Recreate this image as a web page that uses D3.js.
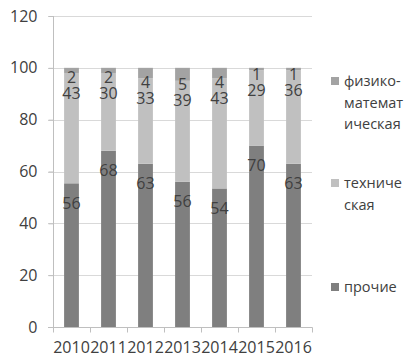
<!DOCTYPE html>
<html><head><meta charset="utf-8">
<script src="https://cdn.jsdelivr.net/npm/d3@7"></script>
<style>body{margin:0;background:#fff}svg{display:block}text{font-family:"Open Sans",sans-serif;fill:#404040}</style>
</head><body><svg id="c" width="406" height="358"></svg>
<script>
const years = ["2010","2011","2012","2013","2014","2015","2016"];
const prochie = [56,68,63,56,54,70,63];
const tekhnicheskaya = [43,30,33,39,43,29,36];
const fizmat = [2,2,4,5,4,1,1];
const seriesNames = ["прочие","техническая","физико-математическая"];
const legendLines = [["физико-","математ","ическая"],["техниче","ская"],["прочие"]];
const yTicks = [0,20,40,60,80,100,120];

const svg = d3.select("#c");
const L=53, R=312, T=16, B=327;
const x = d3.scaleBand().domain(years).range([L,R]).paddingInner(0.6).paddingOuter(0.3);
const xc = d3.scaleBand().domain(years).range([L,R]);
const y = d3.scaleLinear().domain([0,120]).range([B,T]);
const colors = {"прочие":"#7f7f7f","техническая":"#c0c0c0","физико-математическая":"#a3a3a3"};

// gridlines
svg.append("g").selectAll("line").data(yTicks.filter(d=>d>0)).join("line")
  .attr("x1",L-5).attr("x2",R).attr("y1",d=>Math.round(y(d))+0.5).attr("y2",d=>Math.round(y(d))+0.5)
  .attr("stroke","#d9d9d9");
// y axis
const ya = svg.append("g").attr("transform",`translate(${L+0.5},0)`)
  .call(d3.axisLeft(y).tickValues(yTicks).tickSize(5).tickPadding(11));
ya.select(".domain").attr("stroke","#bfbfbf").attr("d",`M-5,${B+0.5}H0V${T}`);
ya.selectAll(".tick line").attr("stroke","#bfbfbf");
ya.selectAll(".tick text").attr("font-size",16).attr("fill","#404040").attr("font-family","Open Sans");

// data
const rows = years.map((yr,i)=>{
  const tot = prochie[i]+tekhnicheskaya[i]+fizmat[i];
  return {year:yr, vals:[prochie[i],tekhnicheskaya[i],fizmat[i]], tot};
});
const stackData = rows.map(r=>({year:r.year,"прочие":r.vals[0]/r.tot*100,"техническая":r.vals[1]/r.tot*100,"физико-математическая":r.vals[2]/r.tot*100,raw:r.vals}));
const stack = d3.stack().keys(seriesNames)(stackData);

svg.append("g").selectAll("g").data(stack).join("g").attr("fill",d=>colors[d.key])
  .selectAll("rect").data(d=>d).join("rect")
  .attr("x",d=>x(d.data.year)).attr("width",x.bandwidth())
  .attr("y",d=>y(d[1])).attr("height",d=>y(d[0])-y(d[1]));

// x axis
const xa = svg.append("g").attr("transform",`translate(0,${B+0.5})`);
xa.append("line").attr("x1",L-5).attr("x2",R+0.5).attr("stroke","#bfbfbf");
xa.selectAll("line.t").data(d3.range(years.length+1)).join("line").attr("class","t")
  .attr("x1",i=>Math.round(L+i*xc.step())+0.5).attr("x2",i=>Math.round(L+i*xc.step())+0.5)
  .attr("y1",0).attr("y2",5).attr("stroke","#bfbfbf");
svg.append("g").selectAll("text").data(years).join("text")
  .attr("x",d=>xc(d)+xc.bandwidth()/2).attr("y",353).attr("text-anchor","middle")
  .attr("font-size",16).text(d=>d);

// labels
const lab = svg.append("g").attr("font-size",16).attr("text-anchor","middle");
stackData.forEach((d,i)=>{
  const cx = x(d.year)+x.bandwidth()/2;
  const s0 = stack[0][i], s1 = stack[1][i], s2 = stack[2][i];
  const yP = y(s0[1])+20;
  const yT = y(s1[1])+20;
  const yF = Math.min(y(s2[1])+20, yT-16);
  [[yP,d.raw[0]],[yT,d.raw[1]],[yF,d.raw[2]]].forEach(([yy,v])=>{
    lab.append("text").attr("x",cx).attr("y",yy).attr("dy","0.35em").text(v);
  });
});

// legend
const leg = [ {name:"физико-математическая",lines:legendLines[0],sy:77},
              {name:"техническая",lines:legendLines[1],sy:179},
              {name:"прочие",lines:legendLines[2],sy:283} ];
const lg = svg.append("g");
leg.forEach(l=>{
  lg.append("rect").attr("x",331).attr("y",l.sy).attr("width",8).attr("height",8).attr("fill",colors[l.name]);
  l.lines.forEach((t,j)=>{
    lg.append("text").attr("x",344).attr("y",l.sy+4+j*21.5).attr("dy","0.35em").attr("font-size",14.5).text(t);
  });
});
</script></body></html>
